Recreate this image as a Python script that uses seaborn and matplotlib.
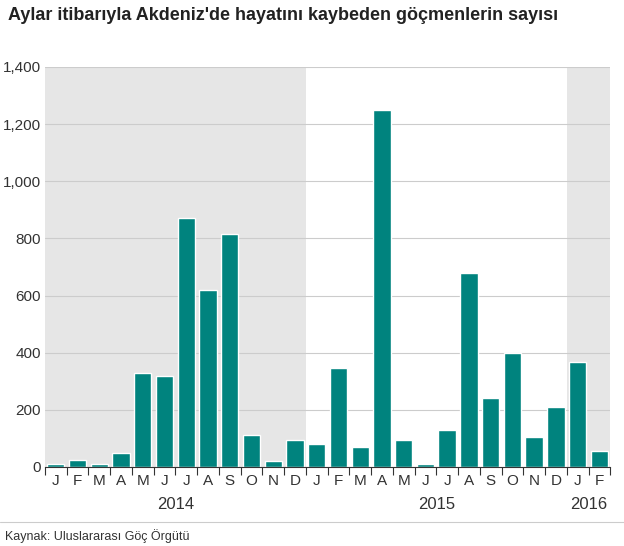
import pandas as pd
import matplotlib.pyplot as plt
import seaborn as sns

months = ['J', 'F', 'M', 'A', 'M', 'J', 'J', 'A', 'S', 'O', 'N', 'D',
          'J', 'F', 'M', 'A', 'M', 'J', 'J', 'A', 'S', 'O', 'N', 'D',
          'J', 'F']
deaths = [12, 25, 12, 50, 330, 320, 870, 620, 815, 112, 22, 95,
          80, 348, 70, 1250, 95, 12, 130, 680, 240, 400, 105, 210,
          368, 55]
years = ['2014', '2015', '2016']
year_pos = [5.5, 17.5, 24.5]

df = pd.DataFrame({'idx': range(len(deaths)), 'deaths': deaths})

sns.set_style("white")
plt.rcParams['font.family'] = ['Liberation Sans', 'DejaVu Sans']

fig = plt.figure(figsize=(6.24, 5.46), dpi=100)
ax = fig.add_axes([0.072, 0.1447, 0.906, 0.7326])

ax.axvspan(-0.5, 11.5, color='#e6e6e6', zorder=0, lw=0)
ax.axvspan(23.5, 25.5, color='#e6e6e6', zorder=0, lw=0)
for y in range(200, 1401, 200):
    ax.axhline(y, color='#cccccc', lw=0.8, zorder=1)

sns.barplot(data=df, x='idx', y='deaths', color='#00837e', saturation=1,
            width=0.8, ax=ax, zorder=2)

ax.set_xlim(-0.5, 25.5)
ax.set_ylim(0, 1400)
ax.set_yticks(range(0, 1401, 200))
ax.set_yticklabels([f'{v:,}' for v in range(0, 1401, 200)], fontsize=11, color='#333333')
ax.tick_params(axis='y', length=0, pad=3)
ax.set_xticks(range(len(months)))
ax.set_xticklabels(months, fontsize=11, color='#333333')
ax.set_xticks([i + 0.5 for i in range(-1, 26)], minor=True)
ax.tick_params(axis='x', which='major', length=0, pad=5)
ax.tick_params(axis='x', which='minor', length=6, width=0.8, color='#333333', direction='out')
ax.xaxis.set_tick_params(which='minor', bottom=True)
for s in ['top', 'right', 'left']:
    ax.spines[s].set_visible(False)
ax.spines['bottom'].set_color('#333333')
ax.set_xlabel('')
ax.set_ylabel('')

for yr, p in zip(years, year_pos):
    ax.text(p, -0.095, yr, transform=ax.get_xaxis_transform(), ha='center',
            va='center', fontsize=12, color='#333333')

fig.text(0.013, 0.972, "Aylar itibarıyla Akdeniz'de hayatını kaybeden göçmenlerin sayısı",
         fontsize=13, fontweight='bold', color='#222222', va='center')
fig.add_artist(plt.Line2D([0, 1], [0.044, 0.044], color='#cccccc', lw=0.8))
fig.text(0.008, 0.018, 'Kaynak: Uluslararası Göç Örgütü', fontsize=9, color='#333333', va='center')

plt.savefig('out.png', dpi=100)
plt.close()
